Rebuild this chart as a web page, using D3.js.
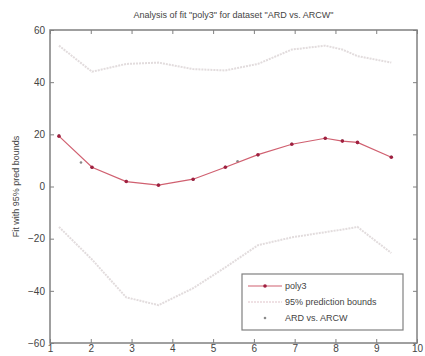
<!DOCTYPE html>
<html>
<head>
<meta charset="utf-8">
<script src="https://cdn.jsdelivr.net/npm/d3@7"></script>
<style>
  body { margin: 0; background: #fff; }
  text { font-family: "Liberation Sans", Arial, sans-serif; fill: #444; }
</style>
</head>
<body>
<script>
// data
let xs = [1.22, 2.03, 2.87, 3.66, 4.51, 5.3, 6.1, 6.93, 7.75, 8.17, 8.54, 9.37];
let fit = [19.3, 7.4, 1.9, 0.5, 2.8, 7.4, 12.2, 16.2, 18.5, 17.4, 16.9, 11.2];
let upper = [54, 44, 47, 47.5, 45, 44.5, 47, 52.5, 54, 52.5, 50, 47.5];
let lower = [-15.5, -28, -42.5, -45.5, -39, -31, -22.5, -19.5, -17.5, -16.5, -15.5, -25.5];
let dataX = [1.22, 1.76, 2.03, 2.87, 3.66, 4.51, 5.3, 5.6, 6.1, 6.93, 7.75, 8.17, 8.54, 9.37];
let dataY = [19.5, 9.2, 7.2, 2.1, 0.7, 2.6, 7.6, 9.7, 12.0, 16.4, 18.3, 17.6, 16.7, 11.4];
let xTicks = [1, 2, 3, 4, 5, 6, 7, 8, 9, 10];
let yTicks = [-60, -40, -20, 0, 20, 40, 60];

let width = 425, height = 356;
let margin = { top: 30, bottom: 13, left: 50, right: 8 };

let svg = d3.select('body')
  .append('svg')
  .attr('width', width)
  .attr('height', height);

let xscale = d3.scaleLinear()
  .domain([1, 10])
  .range([margin.left, width - margin.right]);

let yscale = d3.scaleLinear()
  .domain([-60, 60])
  .range([height - margin.bottom, margin.top]);

let x0 = margin.left, x1 = width - margin.right;
let y0 = height - margin.bottom, y1 = margin.top;

// axes, ticks pointing inward
let axisColor = '#808080';
svg.append('g')
  .attr('transform', `translate(0,${y0})`)
  .call(d3.axisBottom(xscale).tickValues(xTicks).tickSize(-4).tickPadding(2).tickFormat(d3.format('d')))
  .call(g => g.select('.domain').remove());
svg.append('g')
  .attr('transform', `translate(0,${y1})`)
  .call(d3.axisTop(xscale).tickValues(xTicks).tickSize(-4).tickFormat(''))
  .call(g => g.select('.domain').remove());
svg.append('g')
  .attr('transform', `translate(${x0},0)`)
  .call(d3.axisLeft(yscale).tickValues(yTicks).tickSize(-4).tickPadding(5).tickFormat(d3.format('d')))
  .call(g => g.select('.domain').remove());
svg.append('g')
  .attr('transform', `translate(${x1},0)`)
  .call(d3.axisRight(yscale).tickValues(yTicks).tickSize(-4).tickFormat(''))
  .call(g => g.select('.domain').remove());

svg.selectAll('.tick line').attr('stroke', axisColor);
svg.selectAll('.tick text').style('font-size', '10px').attr('fill', '#555');

svg.append('rect')
  .attr('x', x0).attr('y', y1)
  .attr('width', x1 - x0).attr('height', y0 - y1)
  .attr('fill', 'none')
  .attr('stroke', axisColor)
  .attr('stroke-width', 1.5);

let line = d3.line()
  .x(d => xscale(d[0]))
  .y(d => yscale(d[1]));

// prediction bounds
[upper, lower].forEach(b => {
  svg.append('path')
    .datum(xs.map((x, i) => [x, b[i]]))
    .attr('d', line)
    .attr('fill', 'none')
    .attr('stroke', '#e2dcdd')
    .attr('stroke-width', 2)
    .attr('stroke-dasharray', '2,1');
});

// data points
svg.selectAll('.pt')
  .data(dataX.map((x, i) => [x, dataY[i]]))
  .enter().append('circle')
  .attr('cx', d => xscale(d[0]))
  .attr('cy', d => yscale(d[1]))
  .attr('r', 1.3)
  .attr('fill', '#8a8a8a');

// fitted curve
svg.append('path')
  .datum(xs.map((x, i) => [x, fit[i]]))
  .attr('d', line)
  .attr('fill', 'none')
  .attr('stroke', '#d06070')
  .attr('stroke-width', 1.2);

svg.selectAll('.mk')
  .data(xs.map((x, i) => [x, fit[i]]))
  .enter().append('circle')
  .attr('cx', d => xscale(d[0]))
  .attr('cy', d => yscale(d[1]))
  .attr('r', 1.8)
  .attr('fill', '#a02040');

// title and label
svg.append('text')
  .text('Analysis of fit "poly3" for dataset "ARD vs. ARCW"')
  .attr('x', (x0 + x1) / 2)
  .attr('y', 18)
  .attr('text-anchor', 'middle')
  .style('font-size', '9px')
  .attr('fill', '#333');

svg.append('text')
  .text('Fit with 95% pred bounds')
  .attr('transform', `translate(19,${(y0 + y1) / 2}) rotate(-90)`)
  .attr('text-anchor', 'middle')
  .style('font-size', '9px')
  .attr('fill', '#444');

// legend
let lg = svg.append('g').attr('transform', 'translate(242,274)');
lg.append('rect')
  .attr('width', 161).attr('height', 56)
  .attr('fill', '#fff')
  .attr('stroke', axisColor)
  .attr('stroke-width', 1.2);
let items = ['poly3', '95% prediction bounds', 'ARD vs. ARCW'];
items.forEach((t, i) => {
  let yy = 12 + i * 16;
  if (i === 0) {
    lg.append('line').attr('x1', 6).attr('x2', 40).attr('y1', yy).attr('y2', yy)
      .attr('stroke', '#d06070').attr('stroke-width', 1.2);
    lg.append('circle').attr('cx', 23).attr('cy', yy).attr('r', 1.8).attr('fill', '#a02040');
  } else if (i === 1) {
    lg.append('line').attr('x1', 6).attr('x2', 40).attr('y1', yy).attr('y2', yy)
      .attr('stroke', '#ead8dc').attr('stroke-width', 1.5).attr('stroke-dasharray', '2,1');
  } else {
    lg.append('circle').attr('cx', 23).attr('cy', yy).attr('r', 1.3).attr('fill', '#8a8a8a');
  }
  lg.append('text').text(t)
    .attr('x', 43).attr('y', yy + 3)
    .style('font-size', '9px')
    .attr('fill', '#444');
});
</script>
</body>
</html>
